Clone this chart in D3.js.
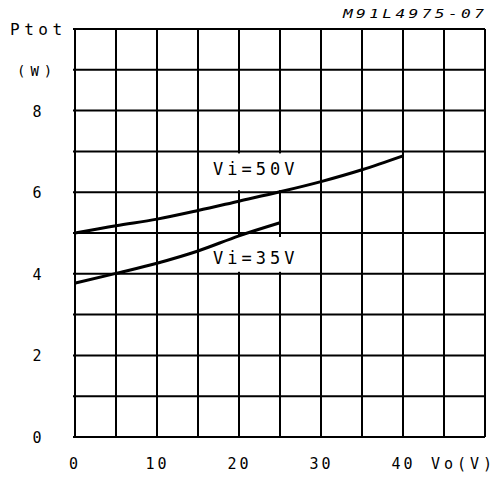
<!DOCTYPE html>
<html><head><meta charset="utf-8">
<script src="https://cdn.jsdelivr.net/npm/d3@7"></script>
<style>
body{margin:0;background:#fff;}
text{font-family:"DejaVu Sans Mono",monospace;fill:#000;}
</style></head>
<body><svg id="c" width="497" height="478"></svg>
<script>
const voltsVi50 = [0,5,10,15,20,25,30,35,40];
const ptotVi50 = [5.0,5.18,5.34,5.55,5.78,6.01,6.26,6.55,6.89];
const voltsVi35 = [0,5,10,15,20,25];
const ptotVi35 = [3.77,4.01,4.26,4.56,4.93,5.25];
const yTickLabels = [0,2,4,6,8];
const xTickLabels = [0,10,20,30,40];
const seriesLabels = ["Vi=50V","Vi=35V"];

const svg = d3.select("#c");
const x = d3.scaleLinear().domain([0,50]).range([75,485]);
const y = d3.scaleLinear().domain([0,10]).range([437,29]);

// grid
const g = svg.append("g");
g.selectAll("line.v").data(d3.range(0,51,5)).join("line")
  .attr("x1",d=>x(d)).attr("x2",d=>x(d)).attr("y1",y(0)).attr("y2",y(10))
  .attr("stroke","#000").attr("stroke-width",2);
g.selectAll("line.h").data(d3.range(0,11,1)).join("line")
  .attr("x1",x(0)-2).attr("x2",x(50)).attr("y1",d=>y(d)).attr("y2",d=>y(d))
  .attr("stroke","#000").attr("stroke-width",2);

// label boxes (white backgrounds covering grid)
svg.append("rect").attr("x",200).attr("y",y(7)+2).attr("width",118).attr("height",y(6)-y(7)-4).attr("fill","#fff");
svg.append("rect").attr("x",200).attr("y",y(5)+4).attr("width",118).attr("height",y(4)-y(5)-6).attr("fill","#fff");

// curves
const line = d3.line().x(d=>x(d[0])).y(d=>y(d[1])).curve(d3.curveMonotoneX);
svg.append("path").datum(voltsVi50.map((v,i)=>[v,ptotVi50[i]])).attr("d",line)
  .attr("fill","none").attr("stroke","#000").attr("stroke-width",3);
svg.append("path").datum(voltsVi35.map((v,i)=>[v,ptotVi35[i]])).attr("d",line)
  .attr("fill","none").attr("stroke","#000").attr("stroke-width",3);

// series labels
svg.append("text").attr("x",213).attr("y",175).attr("font-size",17).attr("letter-spacing",4).text(seriesLabels[0]);
svg.append("text").attr("x",213).attr("y",264).attr("font-size",17).attr("letter-spacing",4).text(seriesLabels[1]);

// y tick labels
svg.selectAll("text.yt").data(yTickLabels).join("text")
  .attr("x",37).attr("y",d=>y(d)+6).attr("text-anchor","middle").attr("font-size",15).text(d=>d);
svg.append("text").attr("x",10).attr("y",35).attr("font-size",16).attr("letter-spacing",4.5).text("Ptot");
svg.append("text").attr("x",17).attr("y",76).attr("font-size",14).attr("letter-spacing",5).text("(W)");

// x tick labels
svg.selectAll("text.xt").data(xTickLabels).join("text")
  .attr("x",d=>x(d)+(d>=10?-1:0)).attr("y",469).attr("text-anchor","middle").attr("font-size",15)
  .attr("letter-spacing",3).attr("dx",d=>d>=10?1.5:0).text(d=>d);
svg.append("text").attr("x",431).attr("y",469).attr("font-size",15).attr("letter-spacing",4).text("Vo(V)");

// figure code
svg.append("text").attr("transform","translate(343,18) scale(1.35,1)").attr("font-size",12).attr("font-style","italic")
  .attr("letter-spacing",2.5).text("M91L4975-07");
</script></body></html>
